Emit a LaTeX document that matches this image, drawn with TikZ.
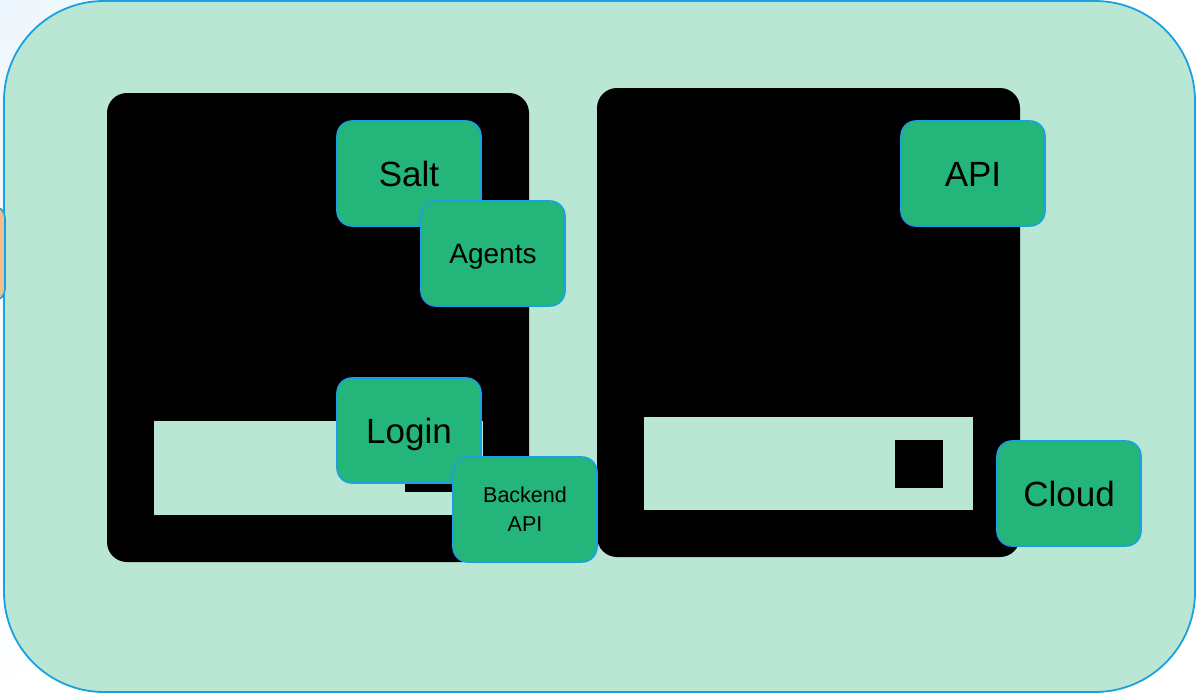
\documentclass[tikz,border=0pt]{standalone}
\usepackage{fontspec}
\setmainfont{Liberation Sans}
\definecolor{panel}{HTML}{B9E7D4}
\definecolor{edge}{HTML}{1BA1E2}
\definecolor{tile}{HTML}{24B57A}
\definecolor{peach}{HTML}{F2BF8C}
\definecolor{haze}{HTML}{EEF7FD}
\begin{document}
\begin{tikzpicture}[x=1pt,y=-1pt,
  darkbox/.style={fill=black, draw=none, rounded corners=20pt, inner sep=0pt},
  slotbox/.style={fill=panel, draw=none, inner sep=0pt},
  tilebox/.style={draw=edge, line width=1.6pt, fill=tile, rounded corners=15pt,
    minimum width=144pt, minimum height=105pt, inner sep=0pt, text=black, align=center},
  bigtext/.style={font=\fontsize{35}{42}\selectfont, text height=25pt, text depth=0pt},
  midtext/.style={font=\fontsize{28}{34}\selectfont, text height=20.3pt, text depth=0pt},
  smalltext/.style={font=\fontsize{21.5}{29}\selectfont}]
\useasboundingbox (0,0) rectangle (1196,696);
% faint backdrop
\begin{scope}
  \clip (0,0) rectangle (1196,696);
  \fill[white] (0,0) rectangle (1196,696);
  \shade[inner color=haze, outer color=white] (0,0) circle (720);
\end{scope}
% outer region
\node (region) [draw=edge, line width=1.8pt, fill=panel, rounded corners=100pt,
  minimum width=1191pt, minimum height=691pt, inner sep=0pt] at (599.5,346.5) {};
% tab on the left edge
\node (tab) [draw=edge, line width=1.6pt, fill=peach, rounded corners=12pt,
  minimum width=50pt, minimum height=95pt, inner sep=0pt] at (-20,253.5) {};
% left server
\node (leftpanel) [darkbox, minimum width=422pt, minimum height=469pt] at (318,327.5) {};
\node (leftslot) [slotbox, minimum width=329pt, minimum height=94pt] at (318.5,468) {};
\node (leftled) [fill=black, minimum size=48pt, inner sep=0pt] at (429,468) {};
% right server
\node (rightpanel) [darkbox, minimum width=423pt, minimum height=469pt] at (808.5,322.5) {};
\node (rightslot) [slotbox, minimum width=329pt, minimum height=93pt] at (808.5,463.5) {};
\node (rightled) [fill=black, minimum size=48pt, inner sep=0pt] at (919,464) {};
% components
\node (salt) [tilebox, bigtext] at (409,173.5) {Salt};
\node (agents) [tilebox, midtext] at (493,253.5) {Agents};
\node (login) [tilebox, bigtext] at (409,430.5) {Login};
\node (backend) [tilebox, smalltext] at (525,509.5) {Backend\\API};
\node (api) [tilebox, bigtext] at (973,173.5) {API};
\node (cloud) [tilebox, bigtext] at (1069,493.5) {Cloud};
\end{tikzpicture}
\end{document}
